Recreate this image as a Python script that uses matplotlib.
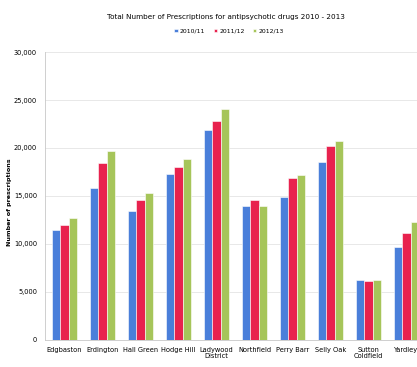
import numpy as np
import matplotlib.pyplot as plt
from matplotlib.ticker import FuncFormatter

districts = ["Edgbaston", "Erdington", "Hall Green", "Hodge Hill", "Ladywood\nDistrict",
             "Northfield", "Perry Barr", "Selly Oak", "Sutton\nColdfield", "Yardley"]
series_names = ["2010/11", "2011/12", "2012/13"]
v_2010 = [11450, 15870, 13440, 17260, 21880, 13920, 14930, 18500, 6250, 9720]
v_2011 = [12010, 18400, 14580, 18060, 22780, 14580, 16910, 20210, 6180, 11110]
v_2012 = [12740, 19720, 15350, 18820, 24060, 13920, 17150, 20730, 6250, 12260]
colors = ["#4A7FDA", "#E8224E", "#A6C55A"]

fig = plt.figure(figsize=(4.17, 3.67), dpi=100)
ax = fig.add_axes([0.1091, 0.0736, 0.9113, 0.7847])

x = np.arange(len(districts))
w = 0.215
for i, (vals, c, name) in enumerate(zip([v_2010, v_2011, v_2012], colors, series_names)):
    ax.bar(x + (i - 1) * w, vals, width=w, color=c, edgecolor="white",
           linewidth=0.4, label=name, zorder=3)

ax.set_xlim(-0.5, len(districts) - 0.5)
ax.set_ylim(0, 30000)
ax.set_yticks(np.arange(0, 30001, 5000))
ax.yaxis.set_major_formatter(FuncFormatter(lambda v, p: f"{int(v):,}"))
ax.set_xticks(x)
ax.set_xticklabels(districts, fontsize=4.8, linespacing=1.1)
ax.tick_params(axis="y", labelsize=4.8, length=0, pad=6)
ax.tick_params(axis="x", length=0, pad=5)
ax.grid(axis="y", color="#e4e4e4", linewidth=0.6, zorder=0)

for s in ["top", "right"]:
    ax.spines[s].set_visible(False)
ax.spines["left"].set_color("#c8c8c8")
ax.spines["bottom"].set_color("#c8c8c8")
ax.spines["left"].set_linewidth(0.6)
ax.spines["bottom"].set_linewidth(0.6)

ax.set_ylabel("Number of prescriptions", fontsize=4.6, fontweight="bold")
ax.yaxis.set_label_coords(-0.088, 0.48)

fig.text(0.543, 0.953, "Total Number of Prescriptions for antipsychotic drugs 2010 - 2013",
         ha="center", va="center", fontsize=5.2)
fig.legend(loc="center", bbox_to_anchor=(0.55, 0.915), ncol=3, frameon=False,
           fontsize=4.4, handlelength=0.5, handleheight=0.5, handletextpad=0.4,
           columnspacing=1.4)

fig.savefig("out.png", dpi=100)
